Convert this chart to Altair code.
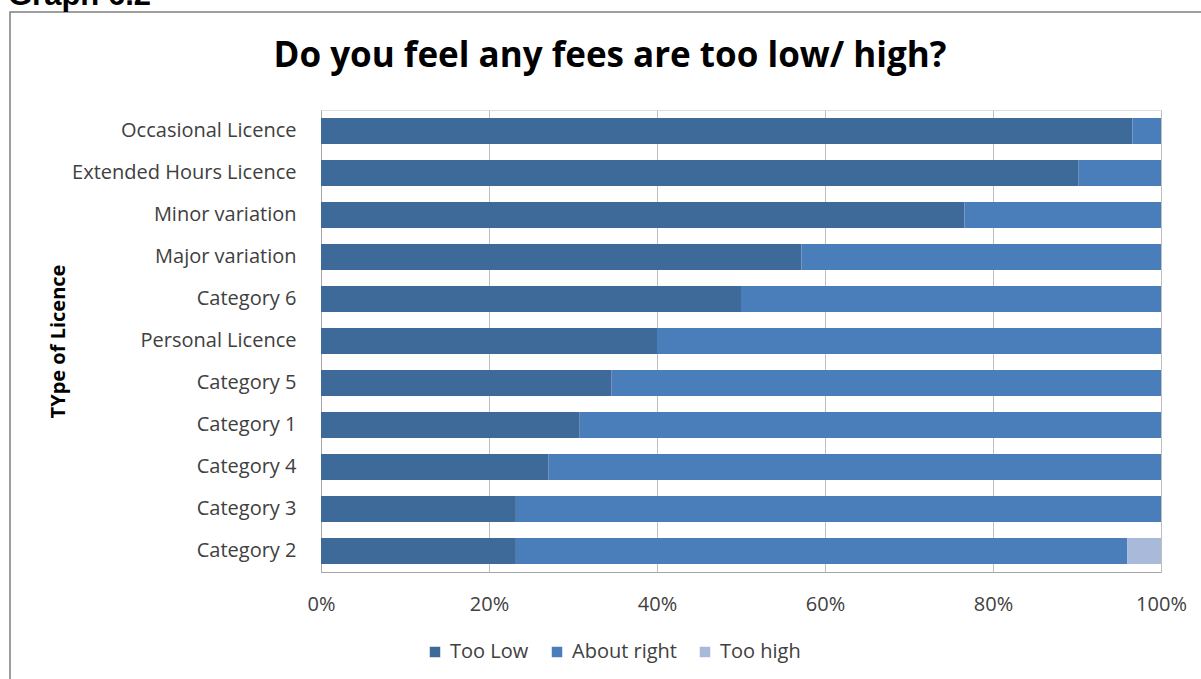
import altair as alt
import pandas as pd

categories = ["Occasional Licence", "Extended Hours Licence", "Minor variation",
              "Major variation", "Category 6", "Personal Licence", "Category 5",
              "Category 1", "Category 4", "Category 3", "Category 2"]
too_low = [96.6, 90.2, 76.6, 57.2, 50.0, 40.0, 34.6, 30.8, 27.1, 23.2, 23.2]
about_right = [3.4, 9.8, 23.4, 42.8, 50.0, 60.0, 65.4, 69.2, 72.9, 76.8, 72.8]
too_high = [0, 0, 0, 0, 0, 0, 0, 0, 0, 0, 4.0]
series = ["Too Low", "About right", "Too high"]
colors = ["#3E6A9A", "#4A7EBB", "#A8B9D9"]

rows = []
for i, c in enumerate(categories):
    for k, (s, vals) in enumerate(zip(series, [too_low, about_right, too_high])):
        rows.append({"cat": c, "series": s, "value": vals[i] / 100.0, "ord": k})
df = pd.DataFrame(rows)

W, H = 840, 462
PL, PT = 321, 110
FONT = "Open Sans"

bars = alt.Chart(df).mark_bar(size=26).encode(
    y=alt.Y("cat:N", sort=categories,
            axis=alt.Axis(title="TYpe of Licence", titleAngle=-90, titleX=58 - PL, titleY=341 - PT,
                          titleFont=FONT, titleFontSize=20, titleFontWeight="bold",
                          titleColor="#000000", titleAlign="center", titleBaseline="middle",
                          labelFont=FONT, labelFontSize=20, labelColor="#404040", labelLimit=400,
                          labelPadding=25, ticks=False, domainColor="#A6A6A6", grid=False)),
    x=alt.X("value:Q", stack="zero", scale=alt.Scale(domain=[0, 1], nice=False),
            axis=alt.Axis(title=None, format="%", values=[0, 0.2, 0.4, 0.6, 0.8, 1.0],
                          labelFont=FONT, labelFontSize=20, labelColor="#404040",
                          labelPadding=22, labelFlush=False, ticks=False, domainColor="#A6A6A6",
                          grid=True, gridColor="#BFBFBF")),
    color=alt.Color("series:N", sort=series, scale=alt.Scale(domain=series, range=colors),
                    legend=alt.Legend(title=None, orient="none", direction="horizontal",
                                      legendX=428 - PL - 3, legendY=653 - PT - 11,
                                      symbolType="square", symbolSize=110, symbolStrokeWidth=0,
                                      labelFont=FONT, labelFontSize=20, labelColor="#404040",
                                      labelOffset=5, columnPadding=18, symbolOffset=0)),
    order=alt.Order("ord:Q"),
)

title_df = pd.DataFrame({"t": ["Do you feel any fees are too low/ high?"]})
title = alt.Chart(title_df).mark_text(font=FONT, fontSize=35, fontWeight="bold",
                                      color="#000000", align="center", baseline="middle").encode(
    text="t:N", x=alt.value(610 - PL), y=alt.value(56 - PT))

graph_df = pd.DataFrame({"t": ["Graph 6.2"]})
graph = alt.Chart(graph_df).mark_text(font="Liberation Sans", fontSize=31, fontWeight="bold",
                                      color="#000000", align="left", baseline="alphabetic").encode(
    text="t:N", x=alt.value(8 - PL), y=alt.value(5 - PT))

frame = alt.Chart(graph_df).mark_rect(fill=None, stroke="#7F7F7F", strokeWidth=1.5).encode(
    x=alt.value(10 - PL), x2=alt.value(1215 - PL), y=alt.value(12 - PT), y2=alt.value(700 - PT))

chart = alt.layer(frame, bars, title, graph).properties(
    width=W, height=H,
    autosize=alt.AutoSizeParams(type="none"),
    padding={"left": PL, "top": PT, "right": 1201 - PL - W, "bottom": 679 - PT - H},
).configure_view(stroke=None).configure(background="#ffffff")

chart.save("out.html", embed_options={"renderer": "svg", "actions": False})
